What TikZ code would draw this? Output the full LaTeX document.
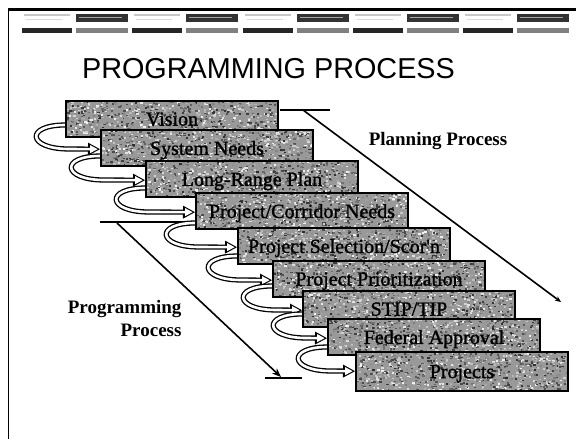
\documentclass[tikz,border=0pt]{standalone}
\usepackage{fontspec}
\setmainfont{Liberation Serif}
\newfontfamily\titlefont{Liberation Sans}
\newfontfamily\stagefont[FakeBold=1.3]{Liberation Serif}
\usetikzlibrary{arrows.meta,calc}

% grainy fill for the stage boxes
\newcommand\speckle{%
  \foreach \i in {1,...,1100}{%
    \pgfmathsetmacro\sx{rnd*216}%
    \pgfmathsetmacro\sy{rnd*42}%
    \pgfmathtruncatemacro\sg{5+rnd*78}%
    \fill[black!\sg] ([xshift=\sx pt, yshift=\sy pt]path picture bounding box.south west) rectangle ++(2.2pt,1.6pt);
  }}

\tikzset{
  stagebox/.style={draw=black, line width=2pt, fill=black!40, anchor=north west,
    minimum width=212pt, minimum height=36pt, inner sep=0pt, text depth=0pt,
    font=\stagefont\fontsize{20}{24}\selectfont, path picture={\speckle}},
  loopback/.style={line width=5.2pt, draw=black,
    -{Triangle[length=12pt,width=13pt,line width=0pt]},
    postaction={draw=white, line width=2.6pt,
      -{Triangle[length=7.5pt,width=8.1pt,line width=0pt]}, shorten >=2.4pt}},
  guide/.style={line width=1.6pt, draw=black},
  sidelabel/.style={font=\bfseries\fontsize{19}{22}\selectfont},
}

\begin{document}
\begin{tikzpicture}[x=1pt, y=-1pt]
\pgfmathsetseed{4242}
\useasboundingbox (0,0) rectangle (576,439);
\fill[white] (0,0) rectangle (576,439);

% frame
\draw[line width=2.4pt] (8,9.5) -- (576,9.5);
\draw[line width=1.5pt] (8.5,9) -- (8.5,439);

% banner strip along the top
\foreach \x in {22,132,243,353,463}{
  \fill[black!22] (\x+2,14) rectangle (\x+48,16);
  \fill[black!14] (\x+4,18.5) rectangle (\x+40,20);
  \fill[black!85] (\x,27.5) rectangle (\x+50,33);
  \fill[black!80] (\x+54,13.5) rectangle (\x+106,22);
  \fill[black!35] (\x+57,16.5) rectangle (\x+100,18);
  \fill[black!50] (\x+54,28) rectangle (\x+106,33);
}

% title
\node[font=\titlefont\fontsize{28.8}{32}\selectfont, anchor=base] (title) at (268.5,78) {PROGRAMMING PROCESS};

% planning process guide
\coordinate (pa) at (280,110);
\coordinate (pb) at (330,110);
\coordinate (pc) at (303,110);
\coordinate (pd) at (561,302);
\draw[guide] (pa) -- (pb);
\draw[guide, -{Stealth[length=6pt,width=5pt]}] (pc) -- (pd);
\node[sidelabel, anchor=base] (plan) at (438,145) {Planning Process};

% programming process guide
\coordinate (qa) at (100,222);
\coordinate (qb) at (197,222);
\coordinate (qc) at (117,223);
\coordinate (qd) at (281,377);
\coordinate (qe) at (265,378);
\coordinate (qf) at (302,378);
\draw[guide] (qa) -- (qb);
\draw[guide, -{Stealth[length=9pt,width=7pt]}] (qc) -- (qd);
\draw[guide] (qe) -- (qf);
\node[sidelabel, anchor=base east] (prog1) at (185,313) {Programming};
\node[sidelabel, anchor=base east] (prog2) at (185,336) {Process};

% stage positions (boxes drawn later, over the loops)
\path
  (65,100)  coordinate (p1)
  (100,129) coordinate (p2)
  (145,160) coordinate (p3)
  (195,192) coordinate (p4)
  (237,227) coordinate (p5)
  (272,260) coordinate (p6)
  (302,290) coordinate (p7)
  (327,318) coordinate (p8)
  (355,351) coordinate (p9);

% invisible copies to get anchors for the loops
\foreach \k in {1,...,9}{
  \path (p\k) node[anchor=north west, minimum width=212pt, minimum height=36pt, inner sep=0pt] (g\k) {};
}

% hollow loop arrows from one stage to the next
\foreach \a/\b in {1/2,2/3,3/4,4/5,5/6,6/7,7/8,8/9}{
  \draw[loopback] ($(g\a.west |- g\b.north)+(0,-4)$) .. controls +(-40,0) and +(-42,0) ..
    ($(g\a.west |- g\b.north)+(4,20)$) -- ([yshift=-2pt]g\b.west);
}

% stages
\node[stagebox] (b1) at (p1) {Vision};
\node[stagebox] (b2) at (p2) {System Needs};
\node[stagebox] (b3) at (p3) {Long-Range Plan};
\node[stagebox] (b4) at (p4) {Project/Corridor Needs};
\node[stagebox] (b5) at (p5) {Project Selection/Scor'n};
\node[stagebox] (b6) at (p6) {Project Prioritization};
\node[stagebox] (b7) at (p7) {STIP/TIP};
\node[stagebox] (b8) at (p8) {Federal Approval};
\node[stagebox, minimum height=39pt] (b9) at (p9) {Projects};
\end{tikzpicture}
\end{document}
